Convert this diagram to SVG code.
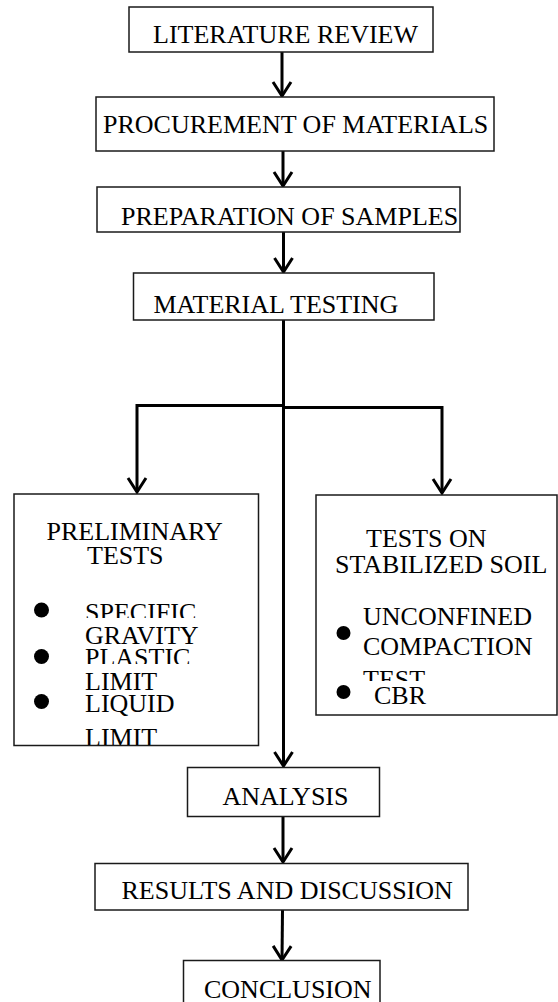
<svg xmlns="http://www.w3.org/2000/svg" width="558" height="1002" viewBox="0 0 558 1002">
<style>
  .box { fill: #fff; stroke: #1a1a1a; stroke-width: 1.5; }
  .t { font-family: "Liberation Serif", "Times New Roman", serif; font-size: 26px; fill: #000; }
  .conn { fill: none; stroke: #000; stroke-width: 3; }
  .dot { fill: #000; }
</style>
<defs>
  <marker id="ah" viewBox="-16 -11 20 22" refX="0" refY="0" markerWidth="20" markerHeight="22" markerUnits="userSpaceOnUse" orient="auto" overflow="visible">
    <path d="M-14,-9 L0,0 L-14,9" fill="none" stroke="#000" stroke-width="3"/>
  </marker>
  <clipPath id="cSpec"><rect x="0" y="590" width="300" height="28"/></clipPath>
  <clipPath id="cGrav"><rect x="0" y="626" width="300" height="30"/></clipPath>
  <clipPath id="cPlas"><rect x="0" y="640" width="300" height="24"/></clipPath>
  <clipPath id="cLim2"><rect x="0" y="720" width="300" height="25"/></clipPath>
  <clipPath id="cTest"><rect x="300" y="660" width="258" height="21"/></clipPath>
</defs>

<g id="connectors">
  <line class="conn" x1="282" y1="52" x2="282" y2="96" marker-end="url(#ah)"/>
  <line class="conn" x1="283" y1="151" x2="283" y2="186" marker-end="url(#ah)"/>
  <line class="conn" x1="283.5" y1="232" x2="283.5" y2="272" marker-end="url(#ah)"/>
  <line class="conn" x1="283.5" y1="320" x2="283.5" y2="766" marker-end="url(#ah)"/>
  <polyline class="conn" points="283.5,405.5 137,405.5 137,492" marker-end="url(#ah)"/>
  <polyline class="conn" points="283.5,407.5 442,407.5 442,493" marker-end="url(#ah)"/>
  <line class="conn" x1="283" y1="817" x2="283" y2="862" marker-end="url(#ah)"/>
  <line class="conn" x1="282.5" y1="910" x2="282" y2="960" marker-end="url(#ah)"/>
</g>

<g id="literature-review">
  <rect class="box" x="129" y="7" width="304" height="45"/>
  <text class="t" x="153" y="43">LITERATURE REVIEW</text>
</g>

<g id="procurement">
  <rect class="box" x="96" y="97" width="398" height="54"/>
  <text class="t" x="103" y="133">PROCUREMENT OF MATERIALS</text>
</g>

<g id="preparation">
  <rect class="box" x="97" y="187" width="363" height="45"/>
  <text class="t" x="121" y="225">PREPARATION OF SAMPLES</text>
</g>

<g id="material-testing">
  <rect class="box" x="133.5" y="273" width="300.5" height="47"/>
  <text class="t" x="153.5" y="313">MATERIAL TESTING</text>
</g>

<g id="preliminary-tests">
  <rect class="box" x="14" y="494" width="244.5" height="251.5"/>
  <text class="t" x="46.5" y="540">PRELIMINARY</text>
  <text class="t" x="87" y="564">TESTS</text>
  <circle class="dot" cx="41.5" cy="610" r="7.5"/>
  <text class="t" x="85" y="621" clip-path="url(#cSpec)">SPECIFIC</text>
  <text class="t" x="85" y="643.5" clip-path="url(#cGrav)">GRAVITY</text>
  <circle class="dot" cx="41.5" cy="656.5" r="7.5"/>
  <text class="t" x="85" y="666" clip-path="url(#cPlas)">PLASTIC</text>
  <text class="t" x="85" y="690">LIMIT</text>
  <circle class="dot" cx="41.5" cy="701.5" r="7.5"/>
  <text class="t" x="85" y="711.5">LIQUID</text>
  <text class="t" x="85" y="746" clip-path="url(#cLim2)">LIMIT</text>
</g>

<g id="stabilized-soil-tests">
  <rect class="box" x="316" y="495" width="241" height="220"/>
  <text class="t" x="366" y="546.5">TESTS ON</text>
  <text class="t" x="335" y="573">STABILIZED SOIL</text>
  <text class="t" x="363" y="625">UNCONFINED</text>
  <circle class="dot" cx="343.5" cy="633" r="7"/>
  <text class="t" x="363" y="655">COMPACTION</text>
  <text class="t" x="363" y="688" clip-path="url(#cTest)">TEST</text>
  <circle class="dot" cx="343.5" cy="692" r="7"/>
  <text class="t" x="374" y="703.5">CBR</text>
</g>

<g id="analysis">
  <rect class="box" x="187.5" y="767.5" width="192" height="49"/>
  <text class="t" x="222.5" y="805">ANALYSIS</text>
</g>

<g id="results-discussion">
  <rect class="box" x="95" y="863.5" width="373" height="46.5"/>
  <text class="t" x="121.5" y="899">RESULTS AND DISCUSSION</text>
</g>

<g id="conclusion">
  <rect class="box" x="183.5" y="960.5" width="196.5" height="50"/>
  <text class="t" x="204" y="998">CONCLUSION</text>
</g>
</svg>
